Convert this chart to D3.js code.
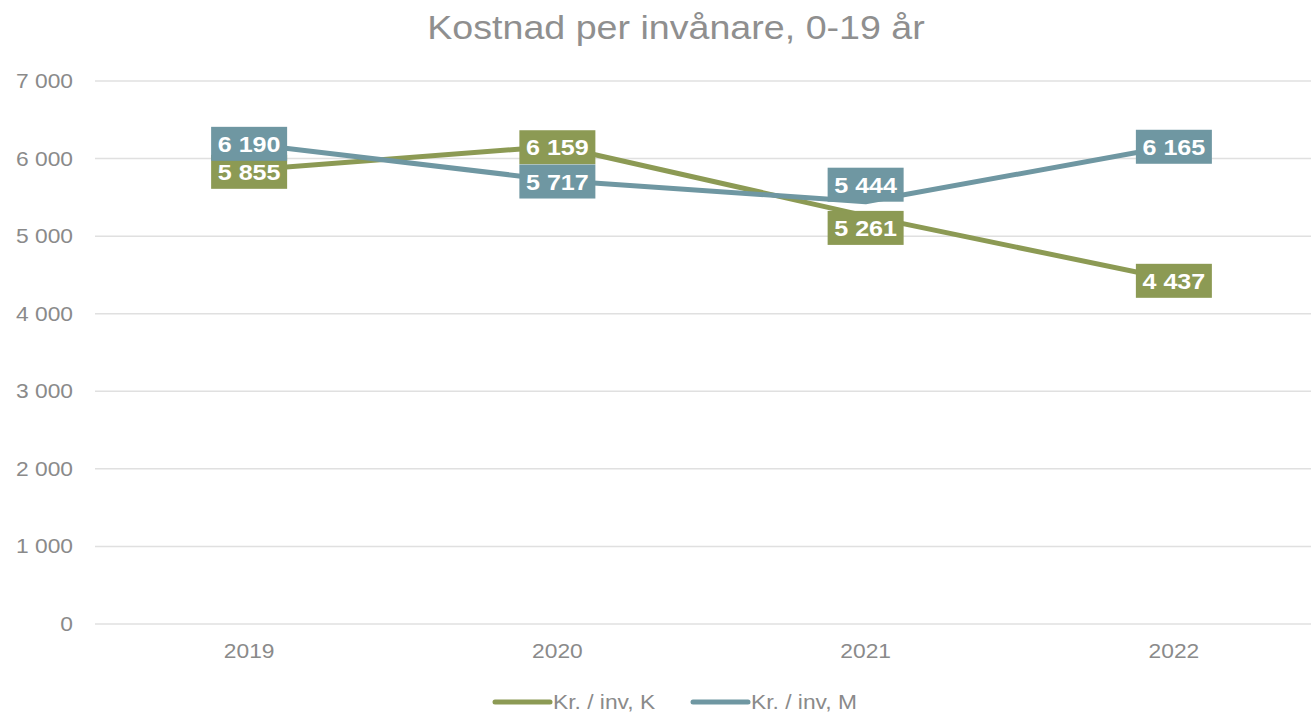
<!DOCTYPE html>
<html><head><meta charset="utf-8">
<script src="https://cdn.jsdelivr.net/npm/d3@7"></script>
<style>body{margin:0;background:#fff;overflow:hidden}svg{display:block;font-family:"Liberation Sans",Arial,sans-serif}</style>
</head><body>
<svg id="c" width="1311" height="714"></svg>
<script>
const years = ["2019","2020","2021","2022"];
const seriesK = [5855, 6159, 5261, 4437];
const seriesM = [6190, 5717, 5444, 6165];
const seriesNames = ["Kr. / inv, K", "Kr. / inv, M"];
const yTicks = [0,1000,2000,3000,4000,5000,6000,7000];
const title = "Kostnad per invånare, 0-19 år";

const colors = ["#8C9A54", "#6F97A2"];
const SX = 1.14; // horizontal stretch of text, as in the reference
// label vertical offsets (layout, px) mimicking Excel's overlap avoidance
const labelDy = [[2,1,12,1],[0,1,-17,1]];

const svg = d3.select("#c");
const x = d3.scaleBand().domain(years).range([95, 1328]);
const y = d3.scaleLinear().domain([0,7000]).range([624, 81]);
const fmt = v => d3.format(",")(v).replace(/,/g, " ");

function stext(sel, px, py, str, opts) {
  return sel.append("text")
    .attr("transform", `translate(${px},${py}) scale(${SX},1)`)
    .attr("text-anchor", opts.anchor || "start")
    .attr("font-size", opts.size)
    .attr("font-weight", opts.weight || "normal")
    .attr("fill", opts.fill)
    .text(str);
}

stext(svg, 676, 39, title, {anchor:"middle", size:33, fill:"#8f8f8f"});

const grid = svg.append("g");
grid.selectAll("line").data(yTicks).join("line")
  .attr("x1", 95).attr("x2", 1311).attr("y1", d=>y(d)).attr("y2", d=>y(d))
  .attr("stroke","#e0e0e0").attr("stroke-width",1.5);

const yLab = svg.append("g");
yTicks.forEach(t => stext(yLab, 73, y(t)+7, fmt(t), {anchor:"end", size:20, fill:"#8a8a8a"}));
const xLab = svg.append("g");
years.forEach(yr => stext(xLab, x(yr)+x.bandwidth()/2, 658, yr, {anchor:"middle", size:20, fill:"#8a8a8a"}));

const series = [seriesK, seriesM];
const line = d3.line().x((d,i)=>x(years[i])+x.bandwidth()/2).y(d=>y(d));
series.forEach((s,k)=>{
  svg.append("path").attr("d", line(s)).attr("fill","none")
    .attr("stroke", colors[k]).attr("stroke-width",5).attr("stroke-linejoin","round");
});
series.forEach((s,k)=>{
  const g = svg.append("g");
  s.forEach((v,i)=>{
    const cx = x(years[i])+x.bandwidth()/2, cy = y(v)+labelDy[k][i];
    g.append("rect").attr("x", cx-38).attr("y", cy-17).attr("width",76).attr("height",34).attr("fill", colors[k]);
    stext(g, cx, cy+8, fmt(v), {anchor:"middle", size:22, weight:"bold", fill:"#fff"});
  });
});

const leg = svg.append("g");
const legX = [495, 693];
seriesNames.forEach((n,k)=>{
  leg.append("line").attr("x1", legX[k]).attr("x2", legX[k]+55).attr("y1",702).attr("y2",702)
    .attr("stroke", colors[k]).attr("stroke-width",5).attr("stroke-linecap","round");
  stext(leg, legX[k]+58, 709, n, {size:20, fill:"#8a8a8a"});
});
</script>
</body></html>
